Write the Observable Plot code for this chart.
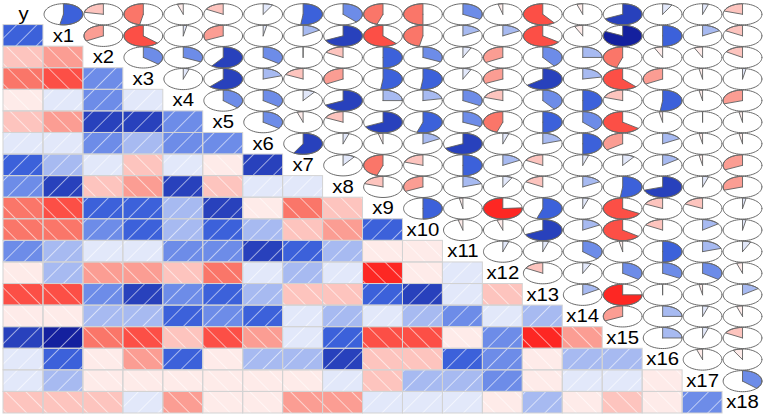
<!DOCTYPE html>
<html><head><meta charset="utf-8">
<script src="https://cdn.jsdelivr.net/npm/d3@7"></script>
<script src="https://cdn.jsdelivr.net/npm/@observablehq/plot@0.6"></script>
<style>body{margin:0;background:#fff}</style>
</head><body><div id="chart"></div>
<script>
// Variable names (diagonal labels)
const vars = ["y","x1","x2","x3","x4","x5","x6","x7","x8","x9","x10","x11","x12","x13","x14","x15","x16","x17","x18"];

// Lower-triangle correlations: row variable vs. preceding variables (y, x1, x2, ...)
const cor_x1  = [0.53];
const cor_x2  = [-0.22, -0.33];
const cor_x3  = [-0.47, -0.63, 0.36];
const cor_x4  = [-0.05, 0.03, 0.32, 0.05];
const cor_x5  = [-0.17, -0.32, 0.60, 0.62, 0.37];
const cor_x6  = [0.08, 0.03, 0.35, 0.20, 0.35, 0.35];
const cor_x7  = [0.52, 0.16, 0.02, -0.18, 0.10, -0.05, 0.58];
const cor_x8  = [0.38, 0.68, -0.17, -0.33, 0.68, -0.18, 0.05, 0.10];
const cor_x9  = [-0.45, -0.62, 0.50, 0.52, 0.25, 0.68, -0.04, -0.45, -0.20];
const cor_x10 = [-0.50, -0.47, 0.32, 0.52, 0.22, 0.55, 0.17, -0.20, -0.32, 0.50];
const cor_x11 = [0.33, 0.17, 0.07, 0.07, 0.33, 0.32, 0.68, 0.50, 0.20, -0.03, -0.04];
const cor_x12 = [-0.04, 0.17, -0.33, -0.32, -0.20, -0.45, 0.05, 0.17, 0.08, -0.76, -0.05, 0.05];
const cor_x13 = [-0.60, -0.65, 0.40, 0.65, 0.40, 0.50, 0.20, -0.17, -0.17, 0.55, 0.68, 0.05, -0.17];
const cor_x14 = [-0.05, -0.07, 0.25, 0.22, 0.50, 0.38, 0.50, 0.05, 0.17, 0.05, 0.17, 0.37, 0.07, 0.16];
const cor_x15 = [0.68, 0.82, -0.45, -0.62, -0.20, -0.65, -0.35, 0.10, 0.52, -0.67, -0.65, -0.03, 0.35, -0.75, -0.32];
const cor_x16 = [0.08, 0.50, -0.07, -0.33, 0.52, -0.03, 0.17, 0.15, 0.70, -0.18, -0.17, 0.50, 0.33, -0.02, 0.25, 0.25];
const cor_x17 = [0.05, 0.17, -0.07, -0.03, -0.03, -0.02, -0.03, -0.03, 0.05, -0.18, 0.15, 0.20, 0.35, -0.03, 0.05, 0.05, -0.05];
const cor_x18 = [-0.20, -0.17, -0.16, 0.03, -0.30, -0.03, -0.03, -0.32, -0.30, 0.03, 0.03, 0.07, -0.05, 0.15, -0.05, -0.17, -0.08, 0.37];

// corrgram colour ramp
const paletteStops = ["red", "salmon", "white", "royalblue", "navy"];
const nBins = 14;

const lowerRows = [[], cor_x1, cor_x2, cor_x3, cor_x4, cor_x5, cor_x6, cor_x7, cor_x8, cor_x9,
  cor_x10, cor_x11, cor_x12, cor_x13, cor_x14, cor_x15, cor_x16, cor_x17, cor_x18];
const n = vars.length;
const R = d3.range(n).map(() => new Array(n).fill(1));
lowerRows.forEach((row, i) => row.forEach((v, j) => { R[i][j] = v; R[j][i] = v; }));

const interp = d3.piecewise(d3.interpolateRgb, paletteStops);
const pal = d3.range(nBins).map(k => d3.color(interp(k / (nBins - 1))).formatHex());
function binColor(r) {
  let k = Math.ceil((r + 1) * nBins / 2) - 1;
  k = Math.max(0, Math.min(nBins - 1, k));
  return pal[k];
}

const lower = [];
for (let i = 1; i < n; i++) for (let j = 0; j < i; j++) {
  lower.push({row: i, col: j, r: R[i][j], fill: binColor(R[i][j])});
}

const RX = 0.485, RY = 0.49;
const piePts = [], ellPts = [];
for (let i = 0; i < n; i++) for (let j = i + 1; j < n; j++) {
  const r = R[i][j], cx = j + 0.5, cy = i + 0.5, id = i + "-" + j, fill = binColor(r);
  const seg = Math.round(60 * Math.abs(r));
  if (seg > 0) {
    const angles = seg === 1 ? [Math.PI / 2] :
      d3.range(seg).map(k => Math.PI / 2 + (-2 * Math.PI * r) * k / (seg - 1));
    piePts.push({id, fill, x: cx, y: cy});
    angles.forEach(a => piePts.push({id, fill, x: cx + RX * Math.cos(a), y: cy - RY * Math.sin(a)}));
    piePts.push({id, fill, x: cx, y: cy});
  }
  for (let k = 0; k <= 60; k++) {
    const t = 2 * Math.PI * k / 60;
    ellPts.push({id, x: cx + RX * Math.cos(t), y: cy + RY * Math.sin(t)});
  }
}
const diag = vars.map((name, i) => ({name, i}));

const rectOpts = {x1: d => d.col, x2: d => d.col + 1, y1: d => d.row, y2: d => d.row + 1};

const svg = Plot.plot({
  width: 765, height: 416,
  marginTop: 3, marginBottom: 3, marginLeft: 3, marginRight: 3,
  x: {domain: [0, n], axis: null},
  y: {domain: [0, n], reverse: true, axis: null},
  color: {type: "identity"},
  style: {background: "white"},
  marks: [
    Plot.rect(lower, {...rectOpts, fill: "fill"}),
    Plot.rect(lower.filter(d => d.r > 0), {...rectOpts, fill: "url(#hatchPos)"}),
    Plot.rect(lower.filter(d => d.r < 0), {...rectOpts, fill: "url(#hatchNeg)"}),
    Plot.rect(lower, {...rectOpts, fill: "none", stroke: "#d3d3d3", strokeWidth: 1}),
    Plot.line(piePts, {x: "x", y: "y", z: "id", fill: "fill", stroke: "#606060", strokeWidth: 0.9}),
    Plot.line(ellPts, {x: "x", y: "y", z: "id", fill: "none", stroke: "#6a6a6a", strokeWidth: 1}),
    Plot.text(diag, {x: d => d.i + 0.5, y: d => d.i + 0.5, text: "name", fontSize: 18,
      fontFamily: "Liberation Sans, Arial, sans-serif", fill: "black"})
  ]
});

const ns = "http://www.w3.org/2000/svg";
const defs = document.createElementNS(ns, "defs");
defs.innerHTML =
  '<pattern id="hatchPos" patternUnits="userSpaceOnUse" width="14.4" height="14.4" patternTransform="rotate(45)">' +
  '<line x1="0" y1="-1" x2="0" y2="15.4" stroke="white" stroke-width="1.1"/></pattern>' +
  '<pattern id="hatchNeg" patternUnits="userSpaceOnUse" width="14.4" height="14.4" patternTransform="rotate(-45)">' +
  '<line x1="0" y1="-1" x2="0" y2="15.4" stroke="white" stroke-width="1.1"/></pattern>';
svg.insertBefore(defs, svg.firstChild);
svg.querySelectorAll('g[aria-label="text"] text').forEach(t => {
  const tr = t.getAttribute("transform") || "";
  t.setAttribute("transform", tr + " scale(1.13,1)");
});
document.getElementById("chart").appendChild(svg);
</script>
</body></html>
